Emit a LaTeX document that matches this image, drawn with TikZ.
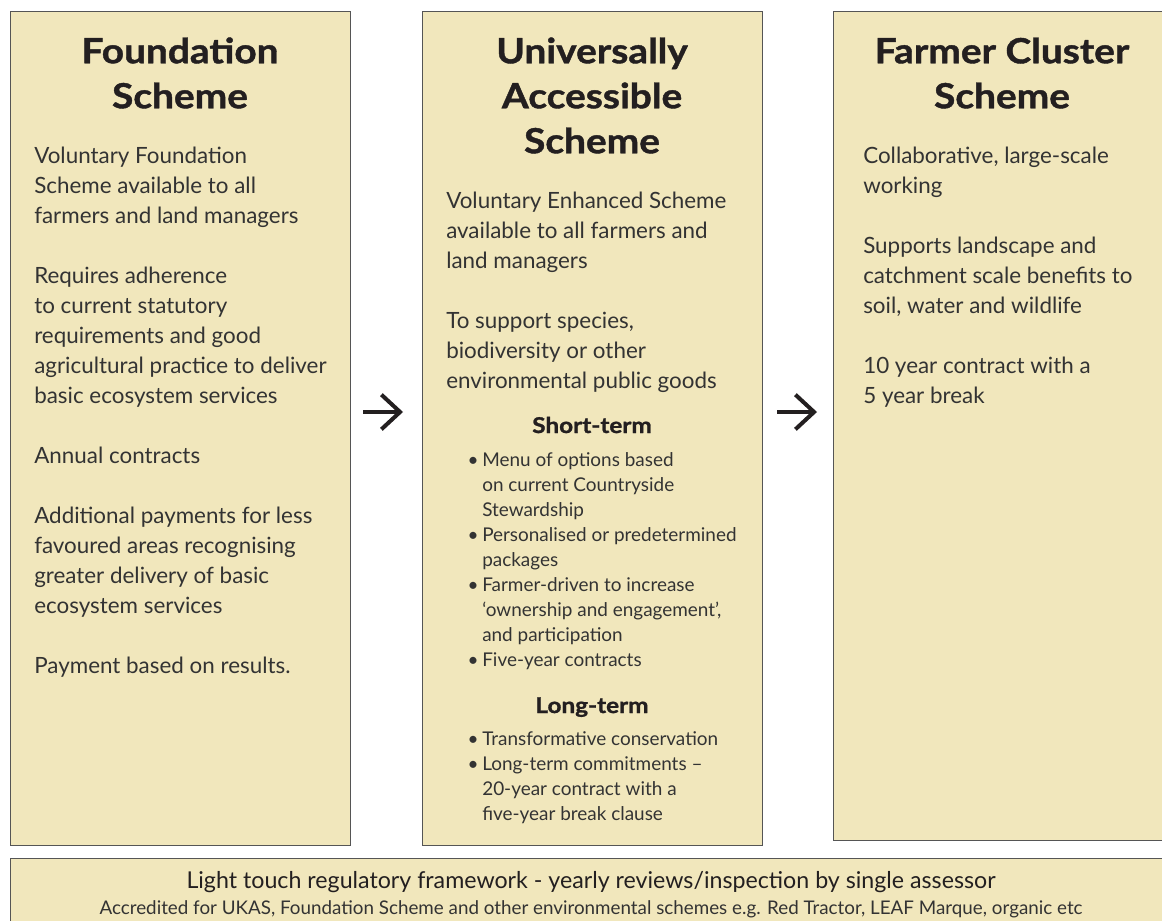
\documentclass[tikz,border=0pt]{standalone}
\usepackage{fontspec}
\setmainfont{Lato}
\newfontfamily\headf{Lato}[FakeStretch=1.12, FakeBold=1.2]
\usetikzlibrary{arrows.meta}
\definecolor{boxfill}{HTML}{F1E7BC}
\definecolor{boxline}{HTML}{555555}
\definecolor{ink}{HTML}{231F20}
\definecolor{bodyink}{HTML}{333333}
\newcommand\tr[1]{\rule{0pt}{#1}}
\newcommand\bl{\llap{\makebox[11pt][l]{\textbullet}}}
\begin{document}
\begin{tikzpicture}[x=0.75pt,y=-0.75pt,
  panel/.style={draw=boxline, fill=boxfill, line width=1.1pt, inner sep=0, anchor=north west},
  titletext/.style={anchor=north, align=center, inner sep=0, text=ink, font=\headf\fontsize{26}{33.75}\bfseries\selectfont},
  bodytext/.style={anchor=north west, align=left, inner sep=0, text=bodyink, font=\fontsize{16.8}{22.5}\selectfont},
  subhead/.style={anchor=base, inner sep=0, text=ink, font=\headf\fontsize{16.3}{18}\bfseries\selectfont},
  bullettext/.style={anchor=north west, align=left, inner sep=0, text=bodyink, font=\fontsize{14.2}{18.75}\selectfont},
  bigarrow/.style={draw=ink, line width=3pt, -{Straight Barb[length=14pt,width=26pt]}}
]
\useasboundingbox (0,0) rectangle (1162,920);
\clip (0,0) rectangle (1162,920);

% panels
\node[panel, minimum width=255pt, minimum height=625.5pt] (fs) at (10,11) {};
\node[panel, minimum width=255pt, minimum height=625.5pt] (ua) at (422,11) {};
\node[panel, minimum width=254.25pt, minimum height=621.75pt] (fc) at (833,11) {};
\node[panel, minimum width=871.5pt, minimum height=61.5pt] (reg) at (10,858) {};

% titles
\node[titletext] (fsT) at (180,31) {\tr{24pt}Foundation\\Scheme};
\node[titletext] (uaT) at (592,31) {\tr{24pt}Universally\\Accessible\\Scheme};
\node[titletext] (fcT) at (1002,31) {\tr{24pt}Farmer Cluster\\Scheme};

% foundation body
\node[bodytext] (fsB) at (34,143) {\tr{15pt}Voluntary Foundation\\
Scheme available to all\\
farmers and land managers\\[22.5pt]
Requires adherence\\
to current statutory\\
requirements and good\\
agricultural practice to deliver\\
basic ecosystem services\\[22.5pt]
Annual contracts\\[22.5pt]
Additional payments for less\\
favoured areas recognising\\
greater delivery of basic\\
ecosystem services\\[22.5pt]
Payment based on results.};

% universally accessible body
\node[bodytext] (uaB) at (446,188) {\tr{15pt}Voluntary Enhanced Scheme\\
available to all farmers and\\
land managers\\[22.5pt]
To support species,\\
biodiversity or other\\
environmental public goods};

\node[subhead] (st) at (592,433) {Short-term};
\node[bullettext] (stB) at (482,448) {\tr{13.5pt}\bl Menu of options based\\
on current Countryside\\
Stewardship\\
\bl Personalised or predetermined\\
packages\\
\bl Farmer-driven to increase\\
‘ownership and engagement’,\\
and participation\\
\bl Five-year contracts};

\node[subhead] (lt) at (592,713) {Long-term};
\node[bullettext] (ltB) at (482,727) {\tr{13.5pt}\bl Transformative conservation\\
\bl Long-term commitments –\\
20-year contract with a\\
five-year break clause};

% farmer cluster body
\node[bodytext] (fcB) at (863,143) {\tr{15pt}Collaborative, large-scale\\
working\\[22.5pt]
Supports landscape and\\
catchment scale benefits to\\
soil, water and wildlife\\[22.5pt]
10 year contract with a\\
5 year break};

% bottom bar
\node[anchor=base, inner sep=0, text=ink, font=\fontsize{17.4}{20}\selectfont] (regT) at (591,888) {Light touch regulatory framework - yearly reviews/inspection by single assessor};
\node[anchor=base, inner sep=0, text=bodyink, font=\fontsize{14.1}{17}\selectfont] (regS) at (591,914) {Accredited for UKAS, Foundation Scheme and other environmental schemes e.g. Red Tractor, LEAF Marque, organic etc};

% arrows
\coordinate (a1s) at (363,412);
\coordinate (a1e) at (403,412);
\coordinate (a2s) at (777,412);
\coordinate (a2e) at (817,412);
\draw[bigarrow] (a1s) -- (a1e);
\draw[bigarrow] (a2s) -- (a2e);
\end{tikzpicture}
\end{document}
